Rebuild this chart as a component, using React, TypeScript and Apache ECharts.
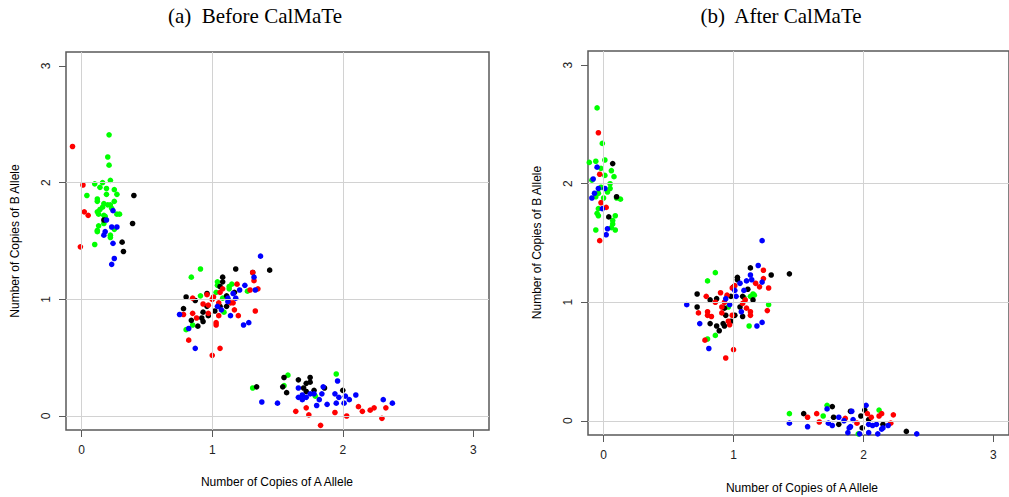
import React, { useEffect, useRef } from "react";
import * as echarts from "echarts";

type Pt = [number, number];

// Axis layout shared by both panels
const tickValues = [0, 1, 2, 3];
const gridValues = [0, 1, 2];
const axisMin = -0.12;
const axisMax = 3.12;

const titles = ["(a)  Before CalMaTe", "(b)  After CalMaTe"];
const xTitle = "Number of Copies of A Allele";
const yTitle = "Number of Copies of B Allele";

// (a) Before CalMaTe
const beforeGreen: Pt[] = [
  [0.21, 2.41], [0.2, 2.22], [0.21, 2.15], [0.22, 2.02], [0.16, 2.0], [0.1, 1.99], [0.14, 1.96],
  [0.19, 1.95], [0.25, 1.94], [0.27, 1.9], [0.19, 1.9], [0.04, 1.89], [0.12, 1.86], [0.12, 1.84],
  [0.25, 1.84], [0.17, 1.82], [0.2, 1.81], [0.22, 1.81], [0.16, 1.79], [0.14, 1.77], [0.12, 1.75],
  [0.23, 1.78], [0.27, 1.73], [0.29, 1.73], [0.13, 1.73], [0.17, 1.72], [0.18, 1.71], [0.13, 1.63],
  [0.17, 1.65], [0.12, 1.59], [0.12, 1.58], [0.25, 1.6], [0.22, 1.55], [0.22, 1.53], [0.1, 1.47],
  [0.91, 1.26], [0.84, 1.19], [1.04, 1.15], [1.04, 1.12], [1.13, 1.11], [1.15, 1.13], [1.13, 1.09],
  [0.91, 1.03], [1.03, 1.06], [1.27, 1.07], [1.08, 1.01], [0.8, 0.74], [0.85, 0.78], [1.09, 0.89],
  [1.95, 0.36], [1.58, 0.35], [1.55, 0.26], [1.31, 0.24], [1.79, 0.17],
];
const beforeBlack: Pt[] = [
  [0.4, 1.89], [0.17, 1.68], [0.39, 1.65], [0.31, 1.49], [0.32, 1.41],
  [1.18, 1.26], [1.44, 1.25], [1.31, 1.23], [1.08, 1.19], [1.08, 1.15], [0.8, 1.02], [0.87, 0.99],
  [0.96, 1.05], [1.06, 1.11], [1.11, 1.03], [1.17, 1.06], [0.78, 0.92], [0.93, 0.89], [0.96, 0.94],
  [1.02, 0.9], [0.84, 0.82], [0.93, 0.81], [0.89, 0.77], [0.97, 0.86], [1.06, 0.94], [1.11, 0.94],
  [0.92, 0.84],
  [1.55, 0.33], [1.66, 0.31], [1.75, 0.33], [1.72, 0.28], [1.75, 0.29], [1.34, 0.25], [1.54, 0.25],
  [1.57, 0.2], [1.7, 0.24], [1.72, 0.21], [1.78, 0.22], [1.86, 0.24], [2.0, 0.22],
];
const beforeRed: Pt[] = [
  [-0.07, 2.31], [0.01, 1.98], [0.02, 1.75], [0.05, 1.72], [-0.01, 1.45],
  [1.31, 1.23], [1.32, 1.16], [1.19, 1.13], [1.35, 1.09], [1.29, 1.08], [1.06, 1.06], [1.08, 1.09],
  [0.96, 1.04], [0.85, 1.01], [1.01, 1.02], [0.93, 0.96], [0.97, 0.95], [1.05, 0.97], [1.16, 0.97],
  [1.33, 0.9], [1.17, 0.91], [1.2, 0.86], [1.05, 0.86], [0.78, 0.87], [0.85, 0.88], [0.88, 0.84],
  [0.97, 0.88], [1.03, 0.8], [1.03, 0.78], [0.82, 0.65], [1.06, 0.58], [1.0, 0.52], [1.0, 1.0],
  [1.14, 0.97],
  [1.64, 0.04], [1.72, 0.07], [1.74, 0.01], [1.83, -0.08], [1.94, 0.03], [2.03, 0.0], [2.12, 0.08],
  [2.15, 0.04], [2.21, 0.05], [2.24, 0.07], [2.3, -0.02], [2.33, 0.07],
];
const beforeBlue: Pt[] = [
  [0.24, 1.76], [0.19, 1.68], [0.23, 1.62], [0.27, 1.62], [0.18, 1.58], [0.17, 1.55], [0.24, 1.48],
  [0.25, 1.35], [0.23, 1.3],
  [1.37, 1.37], [1.32, 1.19], [1.25, 1.12], [1.33, 1.08], [1.21, 1.08], [1.16, 1.05], [1.18, 1.01],
  [1.12, 1.01], [1.04, 0.94], [1.07, 0.91], [1.14, 0.86], [0.75, 0.87], [0.82, 0.75], [1.28, 0.8],
  [1.24, 0.78], [0.87, 0.58], [1.12, 0.98],
  [1.96, 0.3], [1.66, 0.24], [1.85, 0.25], [1.69, 0.18], [1.75, 0.19], [1.78, 0.19], [1.84, 0.19],
  [1.66, 0.16], [1.69, 0.14], [1.72, 0.16], [1.82, 0.14], [1.94, 0.19], [1.97, 0.16], [2.02, 0.17],
  [2.05, 0.14], [2.1, 0.18], [2.31, 0.14], [2.38, 0.11], [1.5, 0.11], [1.38, 0.12], [1.8, 0.09],
  [1.88, 0.1], [1.95, 0.11], [2.01, 0.11],
];

// (b) After CalMaTe
const afterGreen: Pt[] = [
  [-0.05, 2.64], [-0.01, 2.34], [-0.11, 2.18], [-0.06, 2.19], [0.01, 2.2], [-0.02, 2.13], [0.06, 2.11],
  [0.08, 2.06], [0.01, 2.07], [-0.09, 2.03], [0.05, 2.0], [-0.02, 1.97], [0.05, 1.96], [0.03, 1.93],
  [-0.04, 1.92], [-0.06, 1.89], [0.0, 1.88], [0.1, 1.88], [0.13, 1.87], [-0.04, 1.79], [-0.05, 1.75],
  [-0.04, 1.73], [0.09, 1.73], [0.07, 1.69], [0.07, 1.66], [-0.06, 1.61], [0.09, 1.61], [0.06, 1.63],
  [0.86, 1.25], [0.8, 1.18], [1.15, 1.07], [1.13, 1.05], [1.16, 1.06], [1.08, 1.04], [1.27, 0.98],
  [0.96, 0.96], [1.12, 0.8], [0.86, 0.72], [0.8, 0.69],
  [1.72, 0.13], [1.43, 0.06], [1.69, 0.04], [2.12, 0.09], [1.96, -0.11],
];
const afterBlack: Pt[] = [
  [0.07, 2.17], [0.1, 1.89], [0.04, 1.72],
  [1.43, 1.24], [1.29, 1.23], [1.13, 1.29], [1.03, 1.21], [1.03, 1.19], [1.11, 1.11], [1.0, 1.13],
  [0.72, 1.07], [0.82, 1.02], [0.87, 1.03], [0.98, 1.05], [1.07, 1.05], [1.15, 1.02], [0.72, 0.96],
  [1.05, 0.96], [1.01, 0.89], [0.94, 0.89], [1.07, 0.88], [0.82, 0.82], [0.87, 0.8], [0.92, 0.82],
  [0.93, 0.8], [0.89, 0.76], [0.98, 0.84], [0.93, 0.95],
  [1.54, 0.06], [1.76, 0.12], [1.77, 0.03], [1.9, 0.08], [1.98, 0.04], [2.01, 0.09], [1.81, -0.03],
  [1.99, -0.06], [2.15, -0.03], [2.33, -0.09], [2.04, 0.01],
];
const afterRed: Pt[] = [
  [-0.04, 2.43], [-0.03, 2.08], [-0.02, 1.84], [0.02, 1.8], [-0.03, 1.52],
  [1.23, 1.27], [1.23, 1.2], [1.17, 1.16], [1.2, 1.13], [1.27, 1.12], [0.79, 1.05], [0.9, 1.08],
  [0.95, 1.06], [0.99, 1.12], [1.01, 1.14], [0.86, 1.0], [0.93, 1.0], [1.09, 1.02], [0.91, 0.96],
  [0.73, 0.91], [0.8, 0.92], [0.8, 0.89], [0.83, 0.88], [0.91, 0.91], [0.99, 0.89], [1.1, 0.95],
  [1.13, 0.92], [1.13, 0.89], [1.26, 0.93], [0.96, 0.84], [0.97, 0.81], [0.78, 0.68], [1.0, 0.6],
  [0.94, 0.53], [1.07, 0.99],
  [1.57, 0.03], [1.64, 0.06], [1.66, -0.01], [1.86, 0.02], [2.03, 0.06], [2.06, 0.03], [2.12, 0.04],
  [2.14, 0.06], [2.23, 0.05], [1.95, -0.02], [2.21, -0.02],
];
const afterBlue: Pt[] = [
  [-0.05, 2.14], [-0.08, 2.04], [-0.04, 1.96], [0.01, 1.96], [-0.07, 1.92], [-0.09, 1.88], [-0.01, 1.79],
  [0.03, 1.62], [0.02, 1.57],
  [1.22, 1.52], [1.19, 1.31], [1.13, 1.23], [1.05, 1.16], [1.1, 1.18], [1.14, 1.19], [1.22, 1.17],
  [1.08, 1.1], [1.02, 1.05], [0.94, 1.03], [1.01, 1.1], [0.97, 0.98], [0.64, 0.98], [1.06, 0.92],
  [0.74, 0.82], [1.22, 0.83], [1.18, 0.8], [0.81, 0.61],
  [2.02, 0.13], [1.72, 0.1], [1.91, 0.08], [1.43, -0.02], [1.57, -0.05], [1.73, -0.02], [1.76, -0.04],
  [1.81, 0.03], [1.85, 0.0], [1.89, -0.06], [1.9, -0.05], [1.92, 0.01], [1.97, -0.11], [2.04, -0.03],
  [2.07, -0.04], [2.1, -0.03], [2.14, -0.07], [2.15, -0.06], [2.19, -0.04], [2.04, -0.1], [1.88, -0.1],
  [2.41, -0.11], [2.11, -0.11],
];

const panels = [
  { green: beforeGreen, black: beforeBlack, red: beforeRed, blue: beforeBlue },
  { green: afterGreen, black: afterBlack, red: afterRed, blue: afterBlue },
];
const colorOrder: { key: "green" | "black" | "red" | "blue"; color: string }[] = [
  { key: "green", color: "#00ff00" },
  { key: "black", color: "#000000" },
  { key: "red", color: "#ff0000" },
  { key: "blue", color: "#0000ff" },
];

const SANS = '"Liberation Sans", Arial, sans-serif';
const SERIF = '"Liberation Serif", "Times New Roman", serif';
const FRAME = "#5a5a5a";

function makeAxis(gridIndex: number, vertical: boolean) {
  return {
    gridIndex,
    type: "value",
    min: axisMin,
    max: axisMax,
    axisLine: { show: false, onZero: false },
    axisTick: {
      show: true,
      customValues: tickValues,
      length: 7,
      lineStyle: { color: FRAME, width: 1 },
    },
    axisLabel: {
      customValues: tickValues,
      margin: 14,
      rotate: vertical ? 90 : 0,
      color: "#222",
      fontSize: 12,
      fontFamily: SANS,
    },
    splitLine: { show: false },
  };
}

export default function App() {
  const ref = useRef<HTMLDivElement>(null);

  useEffect(() => {
    if (!ref.current) return;
    const chart = echarts.init(ref.current, undefined, { renderer: "svg" });

    const grids = [
      { left: 66, top: 52, width: 423, height: 378 },
      { left: 588, top: 51, width: 428, height: 384 },
    ].map((g) => ({
      ...g,
      show: true,
      borderColor: FRAME,
      borderWidth: 1.5,
      backgroundColor: "transparent",
    }));

    const series: any[] = [];
    panels.forEach((p, i) => {
      colorOrder.forEach(({ key, color }, k) => {
        const s: any = {
          type: "scatter",
          xAxisIndex: i,
          yAxisIndex: i,
          data: p[key],
          symbol: "circle",
          symbolSize: 5.6,
          itemStyle: { color, opacity: 1 },
          silent: true,
        };
        if (k === colorOrder.length - 1) {
          s.markLine = {
            silent: true,
            symbol: ["none", "none"],
            label: { show: false },
            lineStyle: { color: "#d2d2d2", width: 1, type: "solid" },
            data: [
              ...gridValues.map((v) => ({ xAxis: v })),
              ...gridValues.map((v) => ({ yAxis: v })),
            ],
          };
        }
        series.push(s);
      });
    });

    const textStyle = (text: string, font: string) => ({
      text,
      font,
      fill: "#000",
      align: "center",
      verticalAlign: "middle",
      textAlign: "center",
      textVerticalAlign: "middle",
    });

    const graphic = [
      { type: "text", x: 255, y: 16, style: textStyle(titles[0], `21px ${SERIF}`) },
      { type: "text", x: 781, y: 16, style: textStyle(titles[1], `21px ${SERIF}`) },
      { type: "text", x: 277, y: 482, style: textStyle(xTitle, `12px ${SANS}`) },
      { type: "text", x: 802, y: 487.5, style: textStyle(xTitle, `12px ${SANS}`) },
      { type: "text", x: 15, y: 241, rotation: Math.PI / 2, style: textStyle(yTitle, `12px ${SANS}`) },
      { type: "text", x: 537, y: 242.5, rotation: Math.PI / 2, style: textStyle(yTitle, `12px ${SANS}`) },
    ];

    chart.setOption({
      animation: false,
      backgroundColor: "#ffffff",
      grid: grids,
      xAxis: [makeAxis(0, false), makeAxis(1, false)],
      yAxis: [makeAxis(0, true), makeAxis(1, true)],
      series,
      graphic,
    });

    return () => chart.dispose();
  }, []);

  return (
    <div
      ref={ref}
      style={{ position: "absolute", left: 0, top: 0, width: 1009, height: 497 }}
    />
  );
}
